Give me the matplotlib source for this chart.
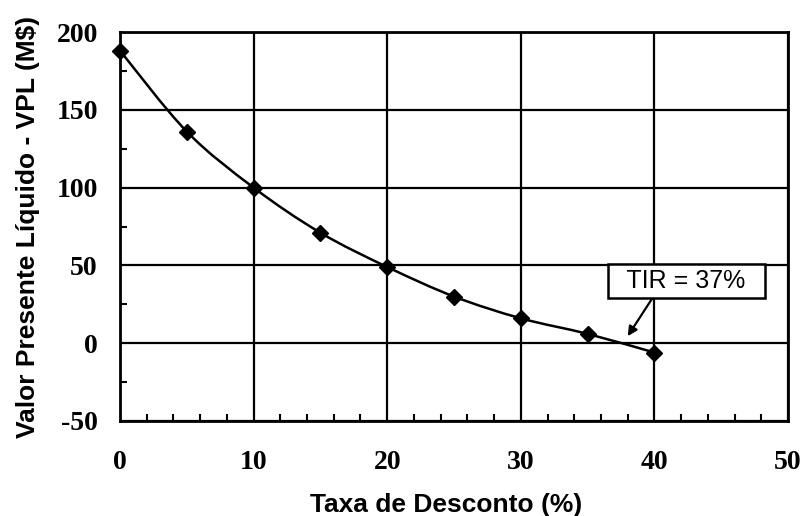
import matplotlib
matplotlib.use("Agg")
import matplotlib.pyplot as plt
from matplotlib.ticker import MultipleLocator
from matplotlib.path import Path
from matplotlib.patches import PathPatch

plt.rcParams["axes.unicode_minus"] = False

taxa = [0, 5, 10, 15, 20, 25, 30, 35, 40]
vpl = [188, 136, 100, 71, 49, 30, 16, 6, -6]
x_ticks = [0, 10, 20, 30, 40, 50]
y_ticks = [-50, 0, 50, 100, 150, 200]
tir_label = "TIR = 37%"

fig = plt.figure(figsize=(8.09, 5.16), dpi=100)
ax = fig.add_axes([120/809, 1 - 421/516, (788-120)/809, (421-32)/516])

# smooth curve through the data points (Catmull-Rom -> cubic Bezier)
verts = [(taxa[0], vpl[0])]
codes = [Path.MOVETO]
n = len(taxa)
for i in range(n - 1):
    p0 = (taxa[max(i-1, 0)], vpl[max(i-1, 0)])
    p1 = (taxa[i], vpl[i])
    p2 = (taxa[i+1], vpl[i+1])
    p3 = (taxa[min(i+2, n-1)], vpl[min(i+2, n-1)])
    c1 = (p1[0] + (p2[0]-p0[0])/6, p1[1] + (p2[1]-p0[1])/6)
    c2 = (p2[0] - (p3[0]-p1[0])/6, p2[1] - (p3[1]-p1[1])/6)
    verts += [c1, c2, p2]
    codes += [Path.CURVE4]*3
ax.add_patch(PathPatch(Path(verts, codes), fc="none", ec="black", lw=1.8, zorder=5, clip_on=False))
ax.plot(taxa, vpl, ls="none", marker="D", ms=8, mfc="black", mec="black", zorder=6, clip_on=False)

ax.set_xlim(0, 50)
ax.set_ylim(-50, 200)
ax.set_xticks(x_ticks)
ax.set_yticks(y_ticks)
ax.xaxis.set_minor_locator(MultipleLocator(2))
ax.yaxis.set_minor_locator(MultipleLocator(25))
ax.grid(True, which="major", color="black", lw=1.6)
ax.tick_params(which="both", direction="in", top=False, right=False, color="black")
ax.tick_params(which="major", length=0)
ax.tick_params(which="minor", length=5, width=1.5)
ax.tick_params(axis="x", which="major", pad=21)
ax.tick_params(axis="y", which="major", pad=16)
for s in ax.spines.values():
    s.set_linewidth(2)
    s.set_color("black")

for lab in ax.get_xticklabels() + ax.get_yticklabels():
    lab.set_family("Liberation Serif")
    lab.set_fontweight("bold")
    lab.set_fontsize(20)

ax.set_xlabel("Taxa de Desconto (%)", family="Liberation Sans", fontweight="bold", fontsize=19, labelpad=12)
ax.xaxis.set_label_coords(0.488, -0.185)
ax.set_ylabel("Valor Presente Líquido - VPL (M$)", family="Liberation Sans", fontweight="bold", fontsize=19, labelpad=12)

ax.annotate("  " + tir_label + "  ", xy=(38.0, 4.5), xytext=(42.4, 40), textcoords="data",
            ha="center", va="center", fontsize=18, family="Liberation Sans",
            bbox=dict(boxstyle="square,pad=0.2", fc="white", ec="black", lw=1.8),
            arrowprops=dict(arrowstyle="-|>", color="black", lw=1.6, mutation_scale=14,
                            shrinkA=0, shrinkB=0, relpos=(0.29, 0.0)),
            zorder=7)

fig.savefig("out.png", dpi=100)
